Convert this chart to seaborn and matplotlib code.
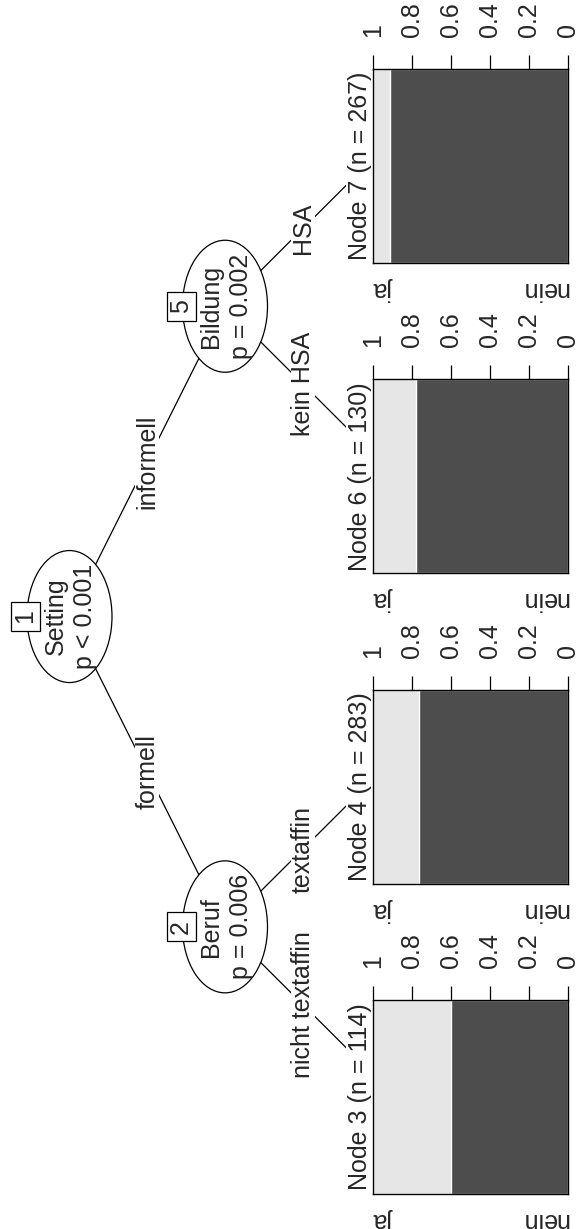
"""
Conditional inference tree (rotated), redrawn with matplotlib + seaborn.
"""

import matplotlib.pyplot as plt
import seaborn as sns
from matplotlib.patches import Ellipse, Rectangle

# tree content
inner_ids = [1, 2, 5]
inner_vars = ["Setting", "Beruf", "Bildung"]
inner_p = ["p < 0.001", "p = 0.006", "p = 0.002"]

edge_parent = [1, 1, 2, 2, 5, 5]
edge_child = [2, 5, 3, 4, 6, 7]
edge_labels = ["formell", "informell", "nicht textaffin", "textaffin", "kein HSA", "HSA"]

leaf_ids = [3, 4, 6, 7]
leaf_n = [114, 283, 130, 267]
leaf_ja = [0.40, 0.235, 0.222, 0.088]
classes = ["ja", "nein"]

tick_vals = [1, 0.8, 0.6, 0.4, 0.2, 0]
tick_labels = ["1", "0.8", "0.6", "0.4", "0.2", "0"]

LIGHT = "#E6E6E6"
DARK = "#4D4D4D"

# layout in image pixels (y grows downwards)
W, H = 580, 1229
LEAF_Y0 = 1082
LEAF_STEP = 310.3
X0, DX = 69.5, 155.5
ELL_W, ELL_H = 85, 132
BOX = 29
PANEL_L, PANEL_R = 373, 568
FS = 18


def layout():
    """Position every node: leaves spread evenly, inner nodes at their kids' mean."""
    kids = {}
    for p, c in zip(edge_parent, edge_child):
        kids.setdefault(p, []).append(c)
    depth = {1: 0}
    for p, c in zip(edge_parent, edge_child):
        depth[c] = depth[p] + 1
    ypos = {lid: LEAF_Y0 - i * LEAF_STEP for i, lid in enumerate(leaf_ids)}

    def y_of(node):
        if node not in ypos:
            ypos[node] = sum(y_of(k) for k in kids[node]) / len(kids[node])
        return ypos[node]

    pos = {}
    for node in depth:
        pos[node] = (X0 + DX * depth[node], y_of(node))
    return pos


def main():
    sns.set_style("white")
    plt.rcParams["font.family"] = ["Liberation Sans", "DejaVu Sans"]
    plt.rcParams["font.size"] = FS

    fig = plt.figure(figsize=(W / 100, H / 100), dpi=100)
    ax = fig.add_axes([0, 0, 1, 1])
    ax.set_xlim(0, W)
    ax.set_ylim(H, 0)
    ax.axis("off")

    pos = layout()

    # edges with their labels
    for p, c, lab in zip(edge_parent, edge_child, edge_labels):
        (px, py), (cx, cy) = pos[p], pos[c]
        ax.plot([px, cx], [py, cy], color="black", lw=0.9, zorder=1)
        ax.text((px + cx) / 2, (py + cy) / 2, lab, rotation=90, ha="center",
                va="center", zorder=3,
                bbox=dict(boxstyle="square,pad=0", fc="white", ec="none"))

    # inner nodes
    for nid, var, pv in zip(inner_ids, inner_vars, inner_p):
        x, y = pos[nid]
        ax.add_patch(Ellipse((x, y), ELL_W, ELL_H, fc="white", ec="black",
                             lw=0.9, zorder=4))
        ax.text(x + 1, y, f"{var}\n{pv}", rotation=90, ha="center", va="center",
                multialignment="center", linespacing=1.3, zorder=5)
        bx = x - ELL_W / 2 - 1.5
        ax.add_patch(Rectangle((bx - BOX / 2, y - BOX / 2), BOX, BOX,
                               fc="white", ec="black", lw=0.9, zorder=6))
        ax.text(bx, y, str(nid), rotation=90, ha="center", va="center", zorder=7)

    # terminal nodes
    for lid, n, ja in zip(leaf_ids, leaf_n, leaf_ja):
        _, cy = pos[lid]
        top, bottom = cy - 82, cy + 112
        ax.add_patch(Rectangle((346, cy - 155), W - 346, 310, fc="white",
                               ec="none", zorder=2))
        ax.text(PANEL_L - 1, (top + bottom) / 2, f"Node {lid} (n = {n})",
                rotation=90, ha="right", va="center", zorder=3)
        ax.text(PANEL_L + 1, bottom + 14, classes[0], rotation=180,
                ha="left", va="top", zorder=3)
        ax.text(PANEL_R, bottom + 14, classes[1], rotation=180,
                ha="right", va="top", zorder=3)

        pax = fig.add_axes([PANEL_L / W, 1 - bottom / H,
                            (PANEL_R - PANEL_L) / W, (bottom - top) / H])
        sns.barplot(x=[1.0], y=["bar"], orient="h", color=LIGHT, saturation=1,
                    width=1, errorbar=None, ax=pax)
        sns.barplot(x=[1 - ja], y=["bar"], orient="h", color=DARK, saturation=1,
                    width=1, errorbar=None, ax=pax)
        pax.set_xlim(1, 0)
        pax.set_ylim(-0.5, 0.5)
        pax.set_yticks([])
        pax.set_xlabel("")
        pax.set_ylabel("")
        pax.set_xticks(tick_vals)
        pax.set_xticklabels(tick_labels)
        pax.tick_params(axis="x", top=True, labeltop=True, bottom=False,
                        labelbottom=False, direction="out", length=10,
                        width=0.9, pad=13, labelrotation=90, labelsize=FS,
                        color="black")
        for sp in pax.spines.values():
            sp.set_color("black")
            sp.set_linewidth(1.0)

    fig.savefig("out.png", dpi=100)
    plt.close(fig)


if __name__ == "__main__":
    main()
